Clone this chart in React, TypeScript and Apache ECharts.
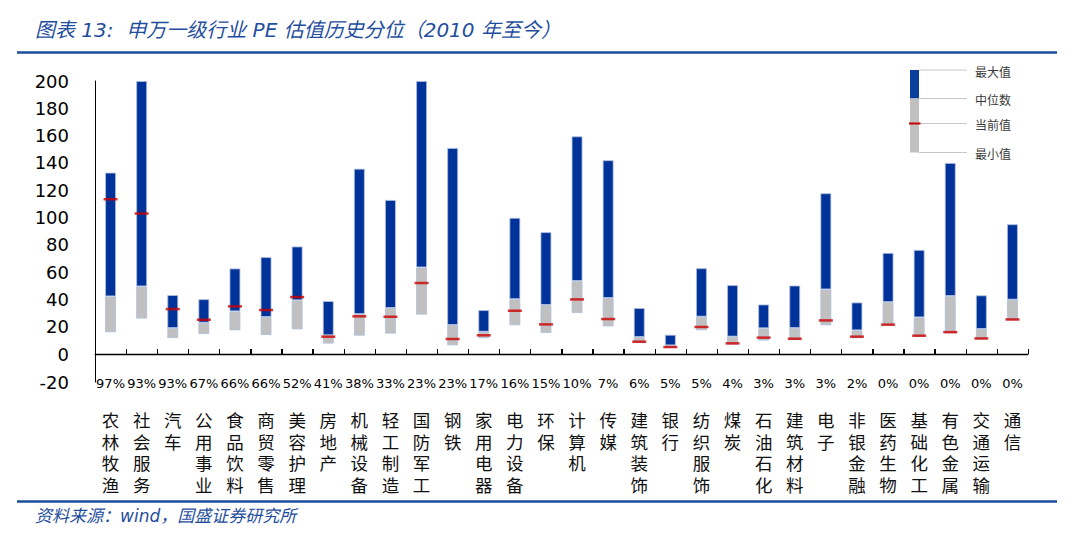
import React, { useEffect, useRef } from "react";
import * as echarts from "echarts";

const categories = ["农林牧渔", "社会服务", "汽车", "公用事业", "食品饮料", "商贸零售", "美容护理", "房地产", "机械设备", "轻工制造", "国防军工", "钢铁", "家用电器", "电力设备", "环保", "计算机", "传媒", "建筑装饰", "银行", "纺织服饰", "煤炭", "石油石化", "建筑材料", "电子", "非银金融", "医药生物", "基础化工", "有色金属", "交通运输", "通信"];
const percentiles = ["97%", "93%", "93%", "67%", "66%", "66%", "52%", "41%", "38%", "33%", "23%", "23%", "17%", "16%", "15%", "10%", "7%", "6%", "5%", "5%", "4%", "3%", "3%", "3%", "2%", "0%", "0%", "0%", "0%", "0%"];
const maxVals = [132.9, 200, 43.2, 40.2, 62.7, 71.0, 78.8, 38.8, 135.8, 112.9, 200, 151, 32.2, 99.8, 89.3, 159.5, 142, 33.7, 14.1, 62.9, 50.5, 36.3, 50.2, 117.8, 37.8, 74.1, 76.3, 140, 43.0, 95.1];
const medVals = [42.2, 49.5, 19.0, 22.9, 31.2, 27.1, 39.3, 13.7, 29.3, 33.7, 63.4, 21.2, 16.3, 40.2, 35.9, 53.4, 41.0, 12.4, 6.3, 27.3, 12.7, 18.8, 19.0, 47.3, 17.3, 38.0, 26.8, 42.4, 18.3, 39.8];
const curVals = [113.4, 102.9, 32.9, 25.1, 34.9, 32.2, 41.7, 12.7, 27.6, 27.3, 52.0, 11.0, 13.7, 31.7, 21.7, 40.0, 25.6, 9.0, 5.1, 19.8, 7.8, 12.0, 11.2, 24.6, 12.7, 21.5, 13.4, 16.0, 11.4, 25.3];
const minVals = [15.9, 25.9, 11.7, 14.6, 17.3, 13.9, 18.0, 7.6, 13.4, 14.9, 28.8, 6.3, 11.5, 21.0, 15.4, 30.0, 20.2, 8.0, 4.4, 17.3, 6.8, 9.8, 10.2, 21.0, 11.5, 20.8, 12.7, 15.3, 10.6, 24.6];
const legendLabels = ["最大值", "中位数", "当前值", "最小值"];

const BLUE = "#003399";
const GRAY = "#c0c0c0";
const RED = "#cc0000";
const TITLE_BLUE = "#1f4e9e";

const GRID_LEFT = 95;
const GRID_RIGHT = 52;
const GRID_TOP = 81;
const GRID_BOTTOM = 188;
const W = 1080;
const H = 542;

export default function App() {
  const ref = useRef<HTMLDivElement>(null);
  useEffect(() => {
    if (!ref.current) return;
    const chart = echarts.init(ref.current, null, { renderer: "svg" });
    const base = minVals;
    const grayPart = medVals.map((m, i) => +(m - minVals[i]).toFixed(2));
    const bluePart = maxVals.map((m, i) => +(m - medVals[i]).toFixed(2));
    const border = { borderColor: "rgba(175,190,220,0.8)", borderWidth: 1 };
    const n = categories.length;

    const legendX = 910;
    const legendYs = [70, 98.5, 123.5, 152.5];
    const legendGraphics: any[] = [];
    legendYs.forEach((y, i) => {
      legendGraphics.push({
        type: "line",
        shape: { x1: 919, y1: y, x2: 967, y2: y },
        style: { stroke: "#c8c8c8", lineWidth: 1 },
      });
      legendGraphics.push({
        type: "text",
        x: 975,
        y: y + 1,
        style: {
          text: legendLabels[i],
          font: "12px 'Noto Sans CJK SC'",
          fill: "#3a3a3a",
          verticalAlign: "middle",
          align: "left",
        },
      });
    });
    legendGraphics.push({ type: "rect", shape: { x: legendX, y: 70, width: 9, height: 28.5 }, style: { fill: "#0a3f9e" } });
    legendGraphics.push({ type: "rect", shape: { x: legendX, y: 98.5, width: 9, height: 54 }, style: { fill: GRAY } });
    legendGraphics.push({ type: "rect", shape: { x: legendX - 1, y: 122.5, width: 11.5, height: 2 }, style: { fill: RED } });

    // Baseline of the category axis at value 0 (bottom edge of the main grid) with boundary ticks
    const axisY = H - GRID_BOTTOM;
    const plotW = W - GRID_LEFT - GRID_RIGHT;
    const band = plotW / n;
    const axisChildren: any[] = [
      {
        type: "line",
        shape: { x1: GRID_LEFT, y1: axisY + 0.5, x2: W - GRID_RIGHT, y2: axisY + 0.5 },
        style: { stroke: "#000000", lineWidth: 1.3 },
      },
    ];
    for (let i = 1; i <= n; i++) {
      const x = Math.round(GRID_LEFT + band * i) + 0.5;
      axisChildren.push({
        type: "line",
        shape: { x1: x, y1: axisY, x2: x, y2: axisY - 5 },
        style: { stroke: "#000000", lineWidth: 1 },
      });
    }

    chart.setOption({
      animation: false,
      backgroundColor: "#ffffff",
      grid: [
        { left: GRID_LEFT, right: GRID_RIGHT, top: GRID_TOP, bottom: GRID_BOTTOM, containLabel: false },
        { left: GRID_LEFT, right: GRID_RIGHT, top: axisY, bottom: 160, containLabel: false },
      ],
      xAxis: [
        {
          type: "category",
          data: categories,
          gridIndex: 0,
          position: "bottom",
          axisLine: { show: true, onZero: false, lineStyle: { color: "#000000", width: 1 } },
          axisTick: { show: true, inside: true, length: 5, interval: 0, lineStyle: { color: "#000000", width: 1 } },
          axisLabel: {
            interval: 0,
            margin: 19,
            formatter: (v: string, idx: number) =>
              `{p|${percentiles[idx]}}\n{g| }\n` + v.split("").map((c) => `{c|${c}}`).join("\n"),
            rich: {
              p: { fontFamily: "DejaVu Sans", fontSize: 13, lineHeight: 20, color: "#000" },
              g: { fontSize: 10, lineHeight: 16 },
              c: { fontFamily: "Noto Sans CJK SC", fontSize: 17.5, lineHeight: 21.5, color: "#111" },
            },
          },
        },
        {
          type: "category",
          data: categories,
          gridIndex: 1,
          show: false,
        },
      ],
      yAxis: [
        {
          type: "value",
          gridIndex: 0,
          min: 0,
          max: 200,
          interval: 20,
          axisLine: { show: true, lineStyle: { color: "#000", width: 1 } },
          axisTick: { show: false },
          splitLine: { show: false },
          axisLabel: { fontFamily: "DejaVu Sans", fontSize: 18, color: "#000", margin: 26 },
        },
        {
          type: "value",
          gridIndex: 1,
          min: -20,
          max: 0,
          interval: 20,
          axisLine: { show: true, lineStyle: { color: "#000", width: 1 } },
          axisTick: { show: false },
          splitLine: { show: false },
          axisLabel: { fontFamily: "DejaVu Sans", fontSize: 18, color: "#000", margin: 26, showMaxLabel: false },
        },
      ],
      series: [
        {
          type: "bar",
          stack: "a",
          data: base,
          barWidth: 11,
          itemStyle: { color: "rgba(0,0,0,0)" },
          silent: true,
        },
        {
          type: "bar",
          stack: "a",
          data: grayPart,
          barWidth: 11,
          itemStyle: { color: GRAY, ...border },
        },
        {
          type: "bar",
          stack: "a",
          data: bluePart,
          barWidth: 11,
          itemStyle: { color: BLUE, ...border },
        },
        {
          type: "scatter",
          data: curVals,
          symbol: "rect",
          symbolSize: [14, 2.5],
          itemStyle: { color: RED },
          z: 5,
        },
      ],
      graphic: [
        {
          type: "text",
          x: 35,
          y: 30,
          style: {
            text: "图表 13:  申万一级行业 PE 估值历史分位（2010 年至今）",
            font: "italic 20px 'DejaVu Sans', 'Noto Sans CJK SC'",
            fill: TITLE_BLUE,
            verticalAlign: "middle",
          },
        },
        {
          type: "line",
          shape: { x1: 17, y1: 52.5, x2: 1057, y2: 52.5 },
          style: { stroke: "#1a4c9c", lineWidth: 2.5 },
        },
        {
          type: "line",
          shape: { x1: 17, y1: 501.5, x2: 1057, y2: 501.5 },
          style: { stroke: "#1a4c9c", lineWidth: 2.5 },
        },
        {
          type: "text",
          x: 35,
          y: 516,
          style: {
            text: "资料来源：wind，国盛证券研究所",
            font: "italic 17px 'DejaVu Sans', 'Noto Sans CJK SC'",
            fill: TITLE_BLUE,
            verticalAlign: "middle",
          },
        },
        { type: "group", z: 100, children: axisChildren },
        ...legendGraphics,
      ],
    });

    return () => chart.dispose();
  }, []);
  return (
    <div
      ref={ref}
      style={{ position: "absolute", left: 0, top: 0, width: W, height: H, background: "#fff" }}
    />
  );
}
